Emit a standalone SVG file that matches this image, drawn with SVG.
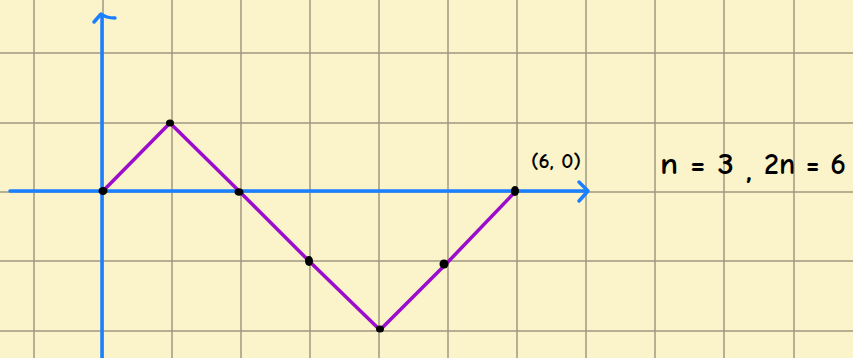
<svg xmlns="http://www.w3.org/2000/svg" width="853" height="358" viewBox="0 0 853 358">
<style>
.grid line{stroke:#9f9882;stroke-width:1.5}
.axis{stroke:#1a80ff;stroke-width:3.5;fill:none;stroke-linecap:round;stroke-linejoin:round}
.path{stroke:#9c0ccc;stroke-width:3.5;fill:none;stroke-linejoin:round}
.dot{fill:#000}
.hand{font-family:"Comic Neue","Open Sans","DejaVu Sans",sans-serif;fill:#000;font-weight:bold}
</style>
<rect width="853" height="358" fill="#fbf3c9"/>
<g class="grid">
<line x1="34" y1="0" x2="34" y2="358"/>
<line x1="103" y1="0" x2="103" y2="358"/>
<line x1="172" y1="0" x2="172" y2="358"/>
<line x1="241" y1="0" x2="241" y2="358"/>
<line x1="310" y1="0" x2="310" y2="358"/>
<line x1="379" y1="0" x2="379" y2="358"/>
<line x1="448" y1="0" x2="448" y2="358"/>
<line x1="517" y1="0" x2="517" y2="358"/>
<line x1="586" y1="0" x2="586" y2="358"/>
<line x1="655" y1="0" x2="655" y2="358"/>
<line x1="724" y1="0" x2="724" y2="358"/>
<line x1="794" y1="0" x2="794" y2="358"/>
<line x1="0" y1="53" x2="853" y2="53"/>
<line x1="0" y1="123" x2="853" y2="123"/>
<line x1="0" y1="192" x2="853" y2="192"/>
<line x1="0" y1="261" x2="853" y2="261"/>
<line x1="0" y1="331" x2="853" y2="331"/>
</g>
<g id="axes">
<path class="axis" d="M102 358 L102 15"/>
<path class="axis" d="M94 22 L101 14 Q106 18 115 18"/>
<path class="axis" d="M10 191 L587 191"/>
<path class="axis" d="M579 182 L588 191 L579 201"/>
</g>
<g id="connectors">
<polyline class="path" points="103,191 170,123 239,191 309,261 380,330 446,264 516,191"/>
</g>
<g id="dots">
<ellipse class="dot" cx="103" cy="191" rx="4.5" ry="4"/>
<ellipse class="dot" cx="170" cy="123" rx="4" ry="3.5"/>
<ellipse class="dot" cx="239" cy="192" rx="4.5" ry="3.8"/>
<ellipse class="dot" cx="309" cy="261" rx="4" ry="5"/>
<ellipse class="dot" cx="380" cy="329" rx="4" ry="3.5"/>
<ellipse class="dot" cx="444" cy="264" rx="4.5" ry="4.5"/>
<ellipse class="dot" cx="515" cy="191" rx="4" ry="5"/>
</g>
<g id="labels">
<text class="hand" x="531" y="168" font-size="21" textLength="50" lengthAdjust="spacingAndGlyphs">(6, 0)</text>
<text class="hand" x="660" y="174" font-size="31" textLength="74" lengthAdjust="spacingAndGlyphs">n = 3</text>
<text class="hand" x="746" y="180" font-size="31">,</text>
<text class="hand" x="764" y="174" font-size="31" textLength="82" lengthAdjust="spacingAndGlyphs">2n = 6</text>
</g>
</svg>
